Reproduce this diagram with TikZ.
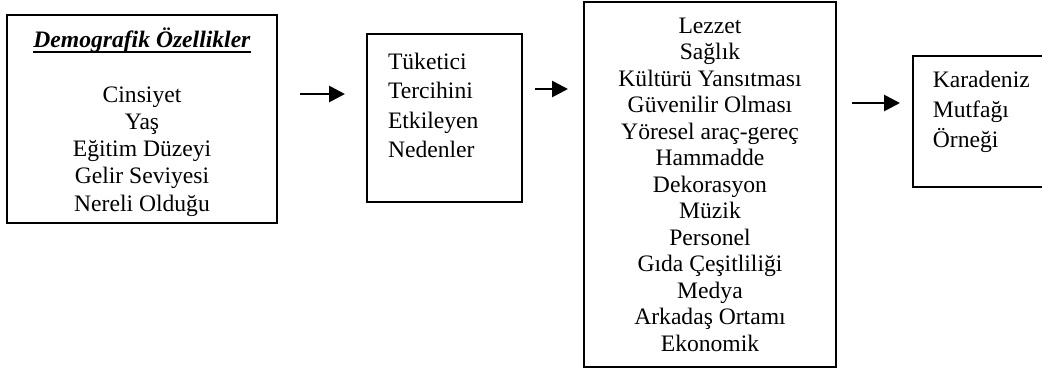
\documentclass[tikz,border=0pt]{standalone}
\usepackage{fontspec}
\setmainfont{Liberation Serif}
\usetikzlibrary{arrows.meta}
\newcommand{\ulthick}[1]{\setbox0\hbox{#1}\rlap{\rule[-5pt]{\wd0}{1.8pt}}\box0}
\tikzset{
  box/.style={draw=black, line width=1.7pt, rectangle, inner ysep=0pt},
  arr/.style={line width=2.8pt, -{Triangle[length=16pt,width=16pt]}},
}
\begin{document}
\begin{tikzpicture}[x=1pt,y=-1pt]
\useasboundingbox (0,0) rectangle (1042,368);
\clip (0,0) rectangle (1042,368);
\node[box, minimum width=270pt, minimum height=208pt, align=center,
      font={\fontsize{23.6pt}{27.2pt}\selectfont}] (dem) at (142,119)
  {\rule{0pt}{26pt}\ulthick{\textbf{\textit{Demografik Özellikler}}}\\ \mbox{}\\ Cinsiyet\\ Yaş\\ Eğitim Düzeyi\\ Gelir Seviyesi\\ Nereli Olduğu};
\node[box, text width=113pt, inner xsep=21pt, minimum height=168pt, align=left,
      font={\fontsize{23.6pt}{29.3pt}\selectfont}] (tuk) at (444.5,118)
  {\rule{0pt}{29pt}Tüketici\\ Tercihini\\ Etkileyen\\ Nedenler\\ \strut};
\node[box, minimum width=252pt, minimum height=365pt, align=center,
      font={\fontsize{23.6pt}{26.5pt}\selectfont}] (ned) at (710,184.5)
  {Lezzet\\ Sağlık\\ Kültürü Yansıtması\\ Güvenilir Olması\\ Yöresel araç-gereç\\ Hammadde\\ Dekorasyon\\ Müzik\\ Personel\\ Gıda Çeşitliliği\\ Medya\\ Arkadaş Ortamı\\ Ekonomik};
\node[box, anchor=west, text width=100pt, inner xsep=20pt, minimum height=131pt, align=left,
      font={\fontsize{23.6pt}{30pt}\selectfont}] (kar) at (912,121.5)
  {\rule{0pt}{31pt}Karadeniz\\ Mutfağı\\ Örneği\\ \strut};
\coordinate (a1s) at (300,94);
\coordinate (a1e) at (345,94);
\coordinate (a2s) at (535,89);
\coordinate (a2e) at (568,89);
\coordinate (a3s) at (852,103);
\coordinate (a3e) at (900,103);
\draw[arr] (a1s) -- (a1e);
\draw[arr] (a2s) -- (a2e);
\draw[arr] (a3s) -- (a3e);
\end{tikzpicture}
\end{document}
